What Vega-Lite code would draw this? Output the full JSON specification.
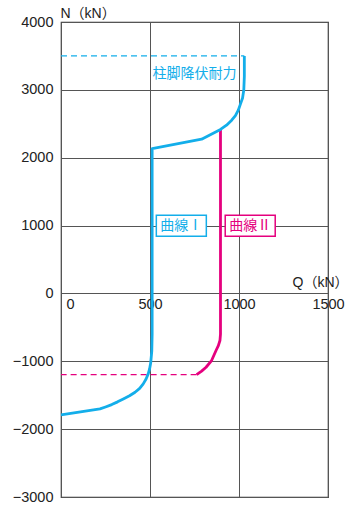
{
  "$schema": "https://vega.github.io/schema/vega-lite/v6.json",
  "autosize": "none",
  "width": 267,
  "height": 475,
  "padding": {"left": 61, "top": 22, "right": 30, "bottom": 9},
  "background": "white",
  "config": {
    "view": {"stroke": "#333", "strokeWidth": 1.2},
    "font": "Liberation Sans, Noto Sans CJK JP, sans-serif",
    "axis": {"gridColor": "#555", "gridOpacity": 1, "gridWidth": 1, "labelColor": "#222", "titleColor": "#222", "labelFont": "Liberation Sans", "labelFontSize": 14.5, "titleFontWeight": "normal", "titleFontSize": 14, "titleFont": "Liberation Sans, Noto Sans CJK JP", "format": "d"}
  },
  "datasets": {
    "curves": [
      {"s": "I", "i": 1, "q": 1030, "n": 3500},
      {"s": "I", "i": 2, "q": 1030, "n": 3200},
      {"s": "I", "i": 3, "q": 1027, "n": 3000},
      {"s": "I", "i": 4, "q": 1020, "n": 2880},
      {"s": "I", "i": 5, "q": 1008, "n": 2790},
      {"s": "I", "i": 6, "q": 996, "n": 2700},
      {"s": "I", "i": 7, "q": 980, "n": 2620},
      {"s": "I", "i": 8, "q": 959, "n": 2553},
      {"s": "I", "i": 9, "q": 930, "n": 2480},
      {"s": "I", "i": 10, "q": 896, "n": 2416},
      {"s": "I", "i": 11, "q": 790, "n": 2273},
      {"s": "I", "i": 12, "q": 512, "n": 2135},
      {"s": "I", "i": 13, "q": 512, "n": -600},
      {"s": "I", "i": 14, "q": 510, "n": -850},
      {"s": "I", "i": 15, "q": 504, "n": -1023},
      {"s": "I", "i": 16, "q": 498, "n": -1110},
      {"s": "I", "i": 17, "q": 490, "n": -1185},
      {"s": "I", "i": 18, "q": 478, "n": -1260},
      {"s": "I", "i": 19, "q": 462, "n": -1333},
      {"s": "I", "i": 20, "q": 442, "n": -1400},
      {"s": "I", "i": 21, "q": 416, "n": -1457},
      {"s": "I", "i": 22, "q": 385, "n": -1508},
      {"s": "I", "i": 23, "q": 350, "n": -1555},
      {"s": "I", "i": 24, "q": 318, "n": -1598},
      {"s": "I", "i": 25, "q": 285, "n": -1638},
      {"s": "I", "i": 26, "q": 250, "n": -1673},
      {"s": "I", "i": 27, "q": 219, "n": -1702},
      {"s": "I", "i": 28, "q": 0, "n": -1790},
      {"s": "II", "i": 1, "q": 896, "n": 2416},
      {"s": "II", "i": 2, "q": 896, "n": -600},
      {"s": "II", "i": 3, "q": 893, "n": -694},
      {"s": "II", "i": 4, "q": 884, "n": -770},
      {"s": "II", "i": 5, "q": 871, "n": -841},
      {"s": "II", "i": 6, "q": 846, "n": -989},
      {"s": "II", "i": 7, "q": 815, "n": -1088},
      {"s": "II", "i": 8, "q": 790, "n": -1145},
      {"s": "II", "i": 9, "q": 762, "n": -1196},
      {"s": "IIdash", "i": 1, "q": 762, "n": -1196},
      {"s": "IIdash", "i": 2, "q": 0, "n": -1196},
      {"s": "Idash", "i": 1, "q": 0, "n": 3500},
      {"s": "Idash", "i": 2, "q": 1030, "n": 3500}
    ],
    "labels": [
      {"s": "I", "label": "柱脚降伏耐力", "q": 750, "n": 3240, "box": false},
      {"s": "I", "label": "曲線Ⅰ", "q": 676, "n": 996, "box": true},
      {"s": "II", "label": "曲線Ⅱ", "q": 1063, "n": 996, "box": true}
    ]
  },
  "layer": [
    {
      "data": {"name": "curves"},
      "transform": [{"filter": "datum.s == 'IIdash'"}],
      "mark": {"type": "line", "color": "#E5007E", "strokeWidth": 1.2, "strokeDash": [6, 4]},
      "encoding": {
        "x": {"field": "q", "type": "quantitative", "scale": {"domain": [0, 1500], "nice": false},
          "axis": {"values": [0, 500, 1000, 1500], "offset": -204, "domain": false, "ticks": false, "labelPadding": 4,
            "labelAlign": {"condition": {"test": "datum.value == 0", "value": "left"}, "value": "center"},
            "labelOffset": {"condition": {"test": "datum.value == 0", "value": 5}, "value": 0},
            "title": "Q（kN）", "titleAlign": "right", "titleX": 287, "titleY": -7, "titleBaseline": "alphabetic", "titleAnchor": null}},
        "y": {"field": "n", "type": "quantitative", "scale": {"domain": [-3000, 4000], "nice": false},
          "axis": {"values": [-3000, -2000, -1000, 0, 1000, 2000, 3000, 4000], "domain": false, "ticks": false, "labelPadding": 8,
            "title": "N（kN）", "titleAngle": 0, "titleAlign": "left", "titleX": -1, "titleY": -5, "titleBaseline": "alphabetic", "titleAnchor": null}},
        "order": {"field": "i", "type": "quantitative"}
      }
    },
    {
      "data": {"name": "curves"},
      "transform": [{"filter": "datum.s == 'Idash'"}],
      "mark": {"type": "line", "color": "#13AEEA", "strokeWidth": 1.2, "strokeDash": [6, 4]},
      "encoding": {
        "x": {"field": "q", "type": "quantitative"},
        "y": {"field": "n", "type": "quantitative"},
        "order": {"field": "i", "type": "quantitative"}
      }
    },
    {
      "data": {"name": "curves"},
      "transform": [{"filter": "datum.s == 'II'"}],
      "mark": {"type": "line", "color": "#E5007E", "strokeWidth": 2.8, "strokeJoin": "round"},
      "encoding": {
        "x": {"field": "q", "type": "quantitative"},
        "y": {"field": "n", "type": "quantitative"},
        "order": {"field": "i", "type": "quantitative"}
      }
    },
    {
      "data": {"name": "curves"},
      "transform": [{"filter": "datum.s == 'I'"}],
      "mark": {"type": "line", "color": "#13AEEA", "strokeWidth": 2.8, "strokeJoin": "round"},
      "encoding": {
        "x": {"field": "q", "type": "quantitative"},
        "y": {"field": "n", "type": "quantitative"},
        "order": {"field": "i", "type": "quantitative"}
      }
    },
    {
      "data": {"name": "labels"},
      "transform": [{"filter": "datum.box"}],
      "mark": {"type": "point", "shape": "M-1,-0.42H1V0.42H-1Z", "size": 2500, "filled": false, "fill": "white", "fillOpacity": 1, "strokeWidth": 1.5, "opacity": 1},
      "encoding": {
        "x": {"field": "q", "type": "quantitative"},
        "y": {"field": "n", "type": "quantitative"},
        "stroke": {"field": "s", "type": "nominal", "scale": {"domain": ["I", "II"], "range": ["#13AEEA", "#E5007E"]}, "legend": null}
      }
    },
    {
      "data": {"name": "labels"},
      "mark": {"type": "text", "font": "Noto Sans CJK JP", "fontSize": 14, "baseline": "middle", "align": "center"},
      "encoding": {
        "x": {"field": "q", "type": "quantitative"},
        "y": {"field": "n", "type": "quantitative"},
        "text": {"field": "label"},
        "color": {"field": "s", "type": "nominal", "scale": {"domain": ["I", "II"], "range": ["#13AEEA", "#E5007E"]}, "legend": null}
      }
    }
  ]
}
